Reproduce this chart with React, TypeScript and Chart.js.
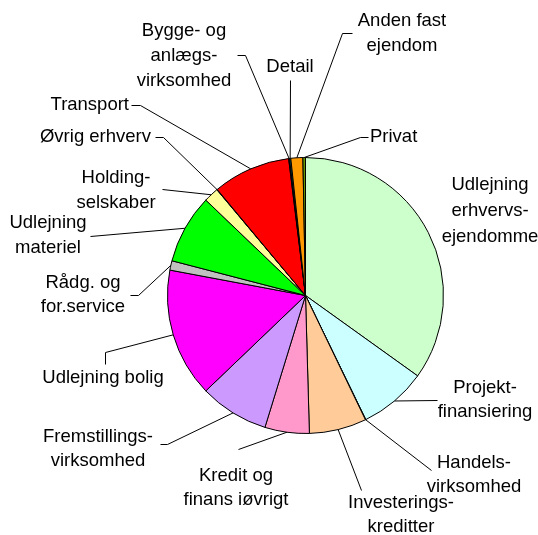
import React, { useEffect, useRef } from "react";
import { Chart, registerables } from "chart.js";
Chart.register(...registerables);

const categories = [
  "Udlejning erhvervsejendomme",
  "Projektfinansiering",
  "Handelsvirksomhed",
  "Investeringskreditter",
  "Kredit og finans iøvrigt",
  "Fremstillingsvirksomhed",
  "Udlejning bolig",
  "Rådg. og for.service",
  "Udlejning materiel",
  "Holdingselskaber",
  "Øvrig erhverv",
  "Transport",
  "Bygge- og anlægsvirksomhed",
  "Detail",
  "Anden fast ejendom",
  "Privat",
];

const values = [34.9, 7.9, 0.05, 6.7, 5.2, 8.1, 15.1, 1.1, 8.1, 1.75, 0.05, 9.1, 0.1, 0.15, 1.4, 0.3];

const colors = [
  "#CCFFCC", "#CCFFFF", "#99CCFF", "#FFCC99", "#FF99CC", "#CC99FF", "#FF00FF", "#C0C0C0",
  "#00FF00", "#FFFF99", "#3366FF", "#FF0000", "#800000", "#008080", "#FF9900", "#669900",
];

const labelLines = [
  ["Udlejning", "erhvervs-", "ejendomme"],
  ["Projekt-", "finansiering"],
  ["Handels-", "virksomhed"],
  ["Investerings-", "kreditter"],
  ["Kredit og", "finans iøvrigt"],
  ["Fremstillings-", "virksomhed"],
  ["Udlejning bolig"],
  ["Rådg. og", "for.service"],
  ["Udlejning", "materiel"],
  ["Holding-", "selskaber"],
  ["Øvrig erhverv"],
  ["Transport"],
  ["Bygge- og", "anlægs-", "virksomhed"],
  ["Detail"],
  ["Anden fast", "ejendom"],
  ["Privat"],
];

const FONT = '18.5px "Liberation Sans", Arial, sans-serif';

type Layout = { x: number; y: number; lh: number; align: CanvasTextAlign; path: [number, number][] | null };
const layout: Layout[] = [
  { x: 490, y: 185, lh: 26, align: "center", path: null },
  { x: 485, y: 388, lh: 24, align: "center", path: [[437, 400]] },
  { x: 474, y: 463, lh: 23.5, align: "center", path: [[431, 470]] },
  { x: 401, y: 503, lh: 24, align: "center", path: [[361, 490]] },
  { x: 236, y: 476, lh: 24, align: "center", path: [[238, 449]] },
  { x: 98, y: 437, lh: 24, align: "center", path: [[167, 444], [160, 444]] },
  { x: 103, y: 378, lh: 24, align: "center", path: [[105, 352], [105, 364]] },
  { x: 83, y: 283, lh: 24, align: "center", path: [[138, 295], [130, 295]] },
  { x: 48, y: 223, lh: 25, align: "center", path: [[90, 236]] },
  { x: 116, y: 178, lh: 25, align: "center", path: [[162, 189]] },
  { x: 151, y: 137, lh: 24, align: "right", path: [[163, 137], [155, 137]] },
  { x: 129, y: 105, lh: 24, align: "right", path: [[140, 105], [131, 105]] },
  { x: 184, y: 31, lh: 25, align: "center", path: [[245, 55], [237, 55]] },
  { x: 290, y: 67, lh: 24, align: "center", path: [[290, 80]] },
  { x: 402, y: 21, lh: 24.5, align: "center", path: [[342, 33], [352, 33]] },
  { x: 370, y: 137, lh: 24, align: "left", path: [[360, 137], [368, 137]] },
];

const leaderPlugin = {
  id: "leaders",
  afterDatasetsDraw(chart: any) {
    const ctx = chart.ctx as CanvasRenderingContext2D;
    const meta = chart.getDatasetMeta(0);
    ctx.save();
    ctx.strokeStyle = "#000";
    ctx.lineWidth = 1;
    ctx.font = FONT;
    ctx.fillStyle = "#000";
    ctx.textBaseline = "middle";
    layout.forEach((L, i) => {
      const arc = meta.data[i] as any;
      if (L.path && arc) {
        const p = arc.getProps(["x", "y", "startAngle", "endAngle", "outerRadius"], true);
        const mid = (p.startAngle + p.endAngle) / 2;
        const ax = p.x + Math.cos(mid) * p.outerRadius;
        const ay = p.y + Math.sin(mid) * p.outerRadius;
        ctx.beginPath();
        ctx.moveTo(ax, ay);
        L.path.forEach(([px, py]) => ctx.lineTo(px + 0.5, py + 0.5));
        ctx.stroke();
      }
      ctx.textAlign = L.align;
      labelLines[i].forEach((t, k) => ctx.fillText(t, L.x, L.y + k * L.lh));
    });
    ctx.restore();
  },
};

export default function App() {
  const ref = useRef<HTMLCanvasElement>(null);
  useEffect(() => {
    if (!ref.current) return;
    const chart = new Chart(ref.current, {
      type: "pie",
      data: {
        labels: categories,
        datasets: [
          {
            data: values,
            backgroundColor: colors,
            borderColor: "#000",
            borderWidth: 1,
          },
        ],
      },
      options: {
        responsive: false,
        animation: false,
        devicePixelRatio: 1,
        layout: { padding: { left: 167, right: 94, top: 157, bottom: 101 } },
        plugins: { legend: { display: false }, tooltip: { enabled: false } },
      },
      plugins: [leaderPlugin],
    });
    return () => chart.destroy();
  }, []);
  return (
    <div style={{ position: "fixed", left: 0, top: 0, width: 538, height: 535, background: "#fff" }}>
      <canvas ref={ref} width={538} height={535} style={{ display: "block", width: 538, height: 535 }} />
    </div>
  );
}
